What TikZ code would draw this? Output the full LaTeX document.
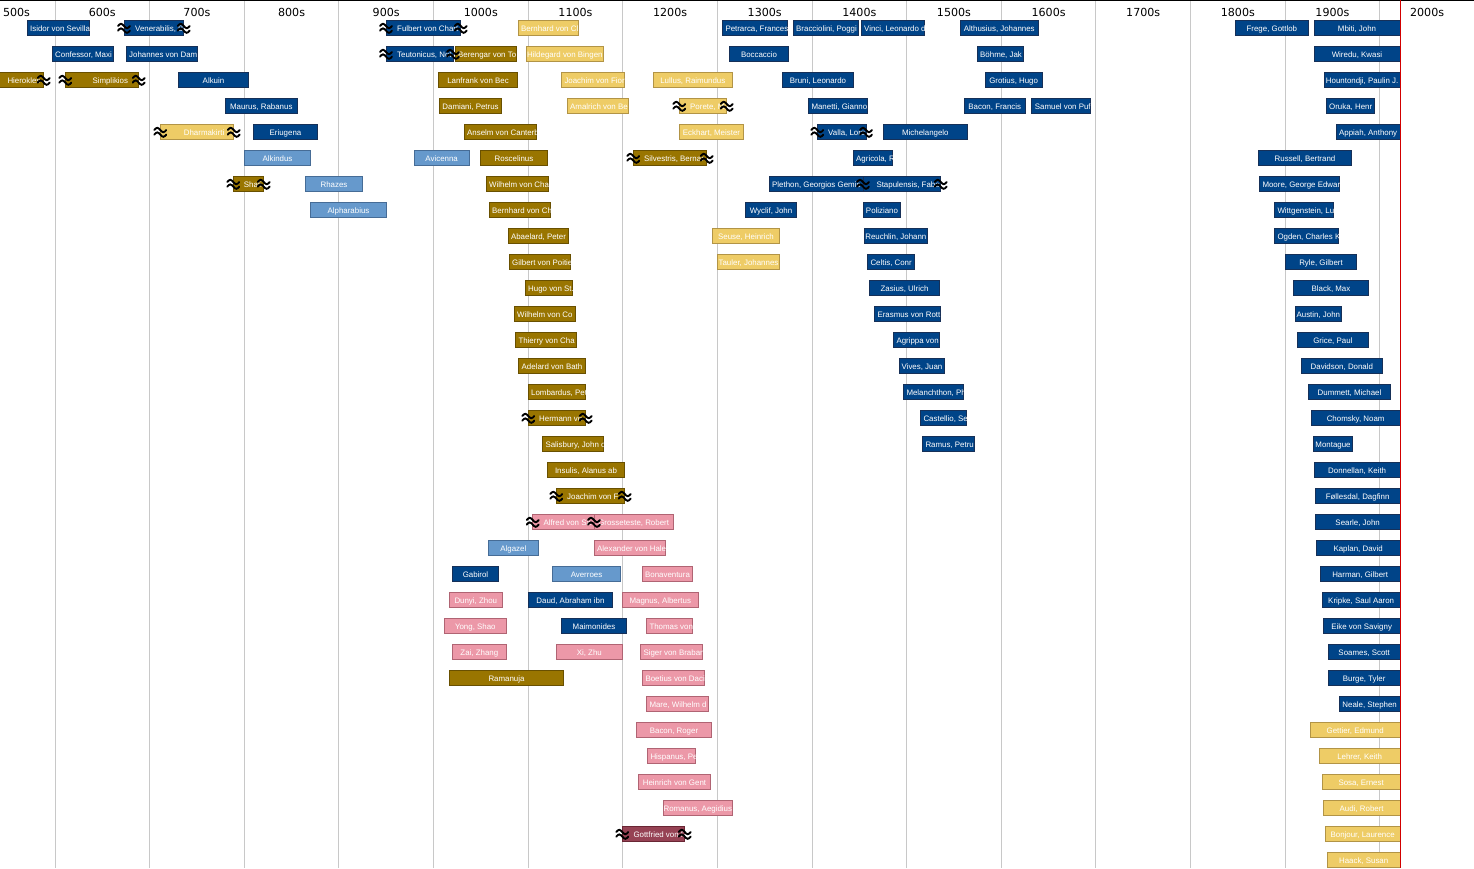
\documentclass[tikz,border=0pt]{standalone}
\usepackage{fontspec}
\setmainfont{Liberation Sans}
\newfontfamily\decfont{DejaVu Sans}
\definecolor{dbF}{RGB}{0,68,136}\definecolor{dbB}{RGB}{22,48,88}
\definecolor{lbF}{RGB}{102,153,204}\definecolor{lbB}{RGB}{70,108,150}
\definecolor{dgF}{RGB}{153,117,0}\definecolor{dgB}{RGB}{105,80,0}
\definecolor{lgF}{RGB}{238,204,102}\definecolor{lgB}{RGB}{178,148,70}
\definecolor{pkF}{RGB}{236,152,168}\definecolor{pkB}{RGB}{176,100,115}
\definecolor{drF}{RGB}{150,66,84}\definecolor{drB}{RGB}{105,38,52}
\definecolor{gridC}{RGB}{200,200,200}
\definecolor{nowC}{RGB}{210,0,0}
\tikzset{
  barbase/.style={line width=0.8pt, minimum height=15pt, inner sep=0pt, outer sep=0pt},
  barDB/.style={barbase, draw=dbB, fill=dbF},
  barLB/.style={barbase, draw=lbB, fill=lbF},
  barDG/.style={barbase, draw=dgB, fill=dgF},
  barLG/.style={barbase, draw=lgB, fill=lgF},
  barPK/.style={barbase, draw=pkB, fill=pkF},
  barDR/.style={barbase, draw=drB, fill=drF},
  btxt/.style={text=white, inner sep=0pt, font=\fontsize{7.9}{9}\selectfont},
  declbl/.style={anchor=base, inner sep=0pt, font=\decfont\fontsize{11.1}{13}\selectfont},
  gridline/.style={draw=gridC, line width=1pt},
  wv/.pic={
    \draw[line width=1.9pt, line cap=round] (-6,-2) sin (-3,-4.2) cos (0,-2) sin (3,0.2) cos (6,-2);
    \draw[line width=1.9pt, line cap=round] (-6,2.6) sin (-3,0.4) cos (0,2.6) sin (3,4.8) cos (6,2.6);
  }
}
\newcommand\barC[6]{%
  \node[#2, minimum width={(#4)*1pt-(#3)*1pt}] (#1) at ({(#3+#4)/2},{28+26*#5}) {};
  \begin{scope}\clip (#1.south west) rectangle (#1.north east);
  \node[btxt, anchor=base] (#1-t) at ([yshift=-3pt]#1.center) {#6};\end{scope}}
\newcommand\barL[7]{%
  \node[#2, minimum width={(#4)*1pt-(#3)*1pt}] (#1) at ({(#3+#4)/2},{28+26*#5}) {};
  \begin{scope}\clip (#1.south west) rectangle (#1.north east);
  \node[btxt, anchor=base west] (#1-t) at (#6,{31+26*#5}) {#7};\end{scope}}
\newcommand\mkLR[1]{\pic at (#1.west) {wv}; \pic at (#1.east) {wv};}
\newcommand\mkR[1]{\pic at (#1.east) {wv};}
\begin{document}
\begin{tikzpicture}[x=1pt,y=-1pt]
\useasboundingbox (0,0) rectangle (1474,868);
\clip (0,0) rectangle (1474,868);
% grid
\foreach \k in {0,...,14} \draw[gridline] ({55+94.63*\k},0) -- ({55+94.63*\k},868);
\draw[line width=1.4pt] (0,0.7) -- (1474,0.7);
% decade labels
\node[declbl] (dec5) at (16.5,16) {500s};
\foreach \k/\lab in {0/600s,1/700s,2/800s,3/900s,4/1000s,5/1100s,6/1200s,7/1300s,8/1400s,9/1500s,10/1600s,11/1700s,12/1800s,13/1900s,14/2000s}
  \node[declbl] (dec\k) at ({102.3+94.63*\k},16) {\lab};
% row 0
\barL{isidor}{barDB}{27.3}{89.7}{0}{30}{Isidor von Sevilla}
\barL{vener}{barDB}{124}{183.7}{0}{135}{Venerabilis, Be}
\barL{fulbert}{barDB}{386}{460.7}{0}{397}{Fulbert von Chart}
\barL{bernhcl}{barLG}{518.3}{578.7}{0}{521}{Bernhard von Cl}
\barL{petrarca}{barDB}{722.3}{787.3}{0}{725.3}{Petrarca, Frances}
\barL{bracc}{barDB}{793.3}{858}{0}{796}{Bracciolini, Poggi}
\barL{vinci}{barDB}{861}{924.7}{0}{864}{Vinci, Leonardo d}
\barC{althus}{barDB}{960.3}{1038.3}{0}{Althusius, Johannes}
\barC{frege}{barDB}{1235}{1308.7}{0}{Frege, Gottlob}
\barC{mbiti}{barDB}{1314}{1400}{0}{Mbiti, John}
% row 1
\barL{confessor}{barDB}{52}{113.7}{1}{55}{Confessor, Maxi}
\barL{damask}{barDB}{126}{197.7}{1}{129}{Johannes von Dam}
\barL{teuton}{barDB}{386}{453}{1}{397}{Teutonicus, Not}
\barL{bereng}{barDG}{455.3}{516.7}{1}{458}{Berengar von To}
\barC{hildeg}{barLG}{526.3}{603.3}{1}{Hildegard von Bingen}
\barC{bocc}{barDB}{729.3}{788.7}{1}{Boccaccio}
\barL{boehme}{barDB}{977}{1023.7}{1}{980}{Böhme, Jak}
\barC{wiredu}{barDB}{1314}{1400}{1}{Wiredu, Kwasi}
% row 2
\barL{hierokl}{barDG}{-20}{43.7}{2}{7.3}{Hierokles}
\barL{simpl}{barDG}{65.3}{138.7}{2}{92.3}{Simplikios}
\barC{alkuin}{barDB}{178.3}{248.7}{2}{Alkuin}
\barC{lanfr}{barDG}{438.3}{517.7}{2}{Lanfrank von Bec}
\barL{joachlg}{barLG}{561.3}{624.7}{2}{564.3}{Joachim von Fior}
\barC{lullus}{barLG}{653.3}{732.3}{2}{Lullus, Raimundus}
\barC{bruni}{barDB}{782.3}{853.7}{2}{Bruni, Leonardo}
\barC{grotius}{barDB}{985.3}{1042}{2}{Grotius, Hugo}
\barC{hount}{barDB}{1324.3}{1400}{2}{Hountondji, Paulin J.}
% row 3
\barC{maurus}{barDB}{225.3}{297.3}{3}{Maurus, Rabanus}
\barC{damiani}{barDG}{439.3}{501.7}{3}{Damiani, Petrus}
\barL{amalr}{barLG}{567.3}{628.7}{3}{570}{Amalrich von Be}
\barL{porete}{barLG}{679.3}{726.7}{3}{690}{Porete, M}
\barL{manetti}{barDB}{808.3}{867.7}{3}{811.3}{Manetti, Gianno}
\barC{baconf}{barDB}{964.3}{1025.3}{3}{Bacon, Francis}
\barL{pufend}{barDB}{1031.3}{1090.7}{3}{1034.7}{Samuel von Puf}
\barL{oruka}{barDB}{1326.3}{1374.7}{3}{1329}{Oruka, Henr}
% row 4
\barL{dharma}{barLG}{160.3}{233.7}{4}{183.7}{Dharmakirti}
\barC{eriug}{barDB}{253.3}{317.7}{4}{Eriugena}
\barL{anselm}{barDG}{464.3}{536.7}{4}{467}{Anselm von Canterb}
\barC{eckhart}{barLG}{679.3}{743.7}{4}{Eckhart, Meister}
\barL{valla}{barDB}{817.3}{866}{4}{828}{Valla, Lore}
\barC{michel}{barDB}{883}{967.7}{4}{Michelangelo}
\barC{appiah}{barDB}{1336.3}{1400}{4}{Appiah, Anthony}
% row 5
\barC{alkind}{barLB}{244.3}{310.7}{5}{Alkindus}
\barC{avic}{barLB}{414.3}{469}{5}{Avicenna}
\barC{rosc}{barDG}{480.3}{547.7}{5}{Roscelinus}
\barL{silv}{barDG}{633.3}{706.7}{5}{644}{Silvestris, Bernar}
\barL{agric}{barDB}{853.3}{892.7}{5}{856}{Agricola, R}
\barC{russell}{barDB}{1258.3}{1351.7}{5}{Russell, Bertrand}
% row 6
\barL{shafi}{barDG}{233.3}{263.7}{6}{243.7}{Shafi}
\barC{rhazes}{barLB}{305.3}{362.7}{6}{Rhazes}
\barL{wilhch}{barDG}{486.3}{548.7}{6}{489}{Wilhelm von Cha}
\barL{plethon}{barDB}{769.3}{863}{6}{772}{Plethon, Georgios Gemis}
\barL{stapul}{barDB}{863}{940.7}{6}{876.3}{Stapulensis, Fabe}
\barL{moore}{barDB}{1259.3}{1339.7}{6}{1262.3}{Moore, George Edwar}
% row 7
\barC{alphar}{barLB}{310.3}{386.7}{7}{Alpharabius}
\barL{bernch}{barDG}{489.3}{550.7}{7}{492}{Bernhard von Ch}
\barC{wyclif}{barDB}{745.3}{796.7}{7}{Wyclif, John}
\barC{polizi}{barDB}{863.3}{900.7}{7}{Poliziano}
\barL{wittg}{barDB}{1274.3}{1333.7}{7}{1277.3}{Wittgenstein, Lu}
% row 8
\barC{abael}{barDG}{508.3}{568.7}{8}{Abaelard, Peter}
\barC{seuse}{barLG}{712.3}{779.7}{8}{Seuse, Heinrich}
\barC{reuchl}{barDB}{864}{927.7}{8}{Reuchlin, Johann}
\barL{ogden}{barDB}{1274.3}{1338.7}{8}{1277.3}{Ogden, Charles K}
% row 9
\barL{gilbert}{barDG}{509.3}{570.7}{9}{512}{Gilbert von Poitie}
\barC{tauler}{barLG}{717.3}{779.7}{9}{Tauler, Johannes}
\barL{celtis}{barDB}{867.3}{914.7}{9}{870.3}{Celtis, Conr}
\barC{ryle}{barDB}{1285.3}{1356.7}{9}{Ryle, Gilbert}
% row 10
\barL{hugo}{barDG}{525.3}{572.7}{10}{528}{Hugo von St.}
\barC{zasius}{barDB}{869.3}{939.7}{10}{Zasius, Ulrich}
\barC{black}{barDB}{1293.3}{1368.7}{10}{Black, Max}
% row 11
\barL{wilhco}{barDG}{514.3}{575.7}{11}{517}{Wilhelm von Co}
\barL{erasm}{barDB}{874.3}{940.7}{11}{877.3}{Erasmus von Rott}
\barC{austin}{barDB}{1295}{1341.7}{11}{Austin, John}
% row 12
\barL{thierry}{barDG}{515.3}{576.7}{12}{518.3}{Thierry von Cha}
\barL{agrippa}{barDB}{893.3}{939.7}{12}{896.3}{Agrippa von}
\barC{grice}{barDB}{1297}{1368.7}{12}{Grice, Paul}
% row 13
\barC{adelard}{barDG}{518.3}{585.7}{13}{Adelard von Bath}
\barC{vives}{barDB}{899.3}{944.7}{13}{Vives, Juan}
\barC{davids}{barDB}{1301}{1382.7}{13}{Davidson, Donald}
% row 14
\barL{lomb}{barDG}{528.3}{585.7}{14}{531}{Lombardus, Pet}
\barL{melan}{barDB}{903.3}{963.7}{14}{906.3}{Melanchthon, Ph}
\barC{dummett}{barDB}{1308.3}{1390.7}{14}{Dummett, Michael}
% row 15
\barL{hermann}{barDG}{528.3}{585.7}{15}{539}{Hermann vo}
\barL{castell}{barDB}{920.3}{966.7}{15}{923.3}{Castellio, Se}
\barC{chomsky}{barDB}{1311.3}{1400}{15}{Chomsky, Noam}
% row 16
\barL{salisb}{barDG}{542.3}{603.7}{16}{545.3}{Salisbury, John o}
\barL{ramus}{barDB}{922.3}{974.7}{16}{925.3}{Ramus, Petru}
\barC{montag}{barDB}{1313.3}{1352.7}{16}{Montague}
% row 17
\barC{insulis}{barDG}{547.3}{624.7}{17}{Insulis, Alanus ab}
\barC{donnell}{barDB}{1314.3}{1400}{17}{Donnellan, Keith}
% row 18
\barL{joachdg}{barDG}{556.3}{624.7}{18}{567}{Joachim von F}
\barC{folles}{barDB}{1315.3}{1400}{18}{Føllesdal, Dagfinn}
% row 19
\barL{alfred}{barPK}{532.7}{594}{19}{543.3}{Alfred von Sa}
\barC{grosset}{barPK}{594}{673.3}{19}{Grosseteste, Robert}
\barC{searle}{barDB}{1315.3}{1400}{19}{Searle, John}
% row 20
\barC{algazel}{barLB}{488.3}{538.3}{20}{Algazel}
\barL{alexhal}{barPK}{594.3}{665.3}{20}{597}{Alexander von Hale}
\barC{kaplan}{barDB}{1316.3}{1400}{20}{Kaplan, David}
% row 21
\barC{gabirol}{barDB}{452.3}{498.7}{21}{Gabirol}
\barC{averr}{barLB}{552.3}{620.7}{21}{Averroes}
\barC{bonav}{barPK}{642.7}{692.3}{21}{Bonaventura}
\barC{harman}{barDB}{1320.3}{1400}{21}{Harman, Gilbert}
% row 22
\barC{dunyi}{barPK}{449.3}{502.3}{22}{Dunyi, Zhou}
\barC{daud}{barDB}{528.3}{612.7}{22}{Daud, Abraham ibn}
\barC{magnus}{barPK}{622.3}{698.3}{22}{Magnus, Albertus}
\barC{kripke}{barDB}{1322.3}{1400}{22}{Kripke, Saul Aaron}
% row 23
\barC{yong}{barPK}{444.3}{506.3}{23}{Yong, Shao}
\barC{maimon}{barDB}{561.3}{626.7}{23}{Maimonides}
\barL{thomas}{barPK}{646.3}{692.3}{23}{649.3}{Thomas von}
\barC{eike}{barDB}{1323.3}{1400}{23}{Eike von Savigny}
% row 24
\barC{zai}{barPK}{452.3}{506.3}{24}{Zai, Zhang}
\barC{zhu}{barPK}{556.3}{622.3}{24}{Xi, Zhu}
\barL{siger}{barPK}{640.3}{702.3}{24}{643.3}{Siger von Braban}
\barC{soames}{barDB}{1328.3}{1400}{24}{Soames, Scott}
% row 25
\barC{ramanuja}{barDG}{449.3}{563.7}{25}{Ramanuja}
\barL{boetius}{barPK}{642.3}{704.3}{25}{645.3}{Boetius von Daci}
\barC{burge}{barDB}{1328.3}{1400}{25}{Burge, Tyler}
% row 26
\barL{mare}{barPK}{646.3}{708.3}{26}{649.3}{Mare, Wilhelm d}
\barC{neale}{barDB}{1339.3}{1400}{26}{Neale, Stephen}
% row 27
\barC{baconr}{barPK}{636.3}{711.7}{27}{Bacon, Roger}
\barC{gettier}{barLG}{1310.3}{1400}{27}{Gettier, Edmund}
% row 28
\barL{hispan}{barPK}{647.3}{695.7}{28}{650.3}{Hispanus, Pe}
\barC{lehrer}{barLG}{1319.3}{1400}{28}{Lehrer, Keith}
% row 29
\barC{heinr}{barPK}{638.3}{710.7}{29}{Heinrich von Gent}
\barC{sosa}{barLG}{1322.3}{1400}{29}{Sosa, Ernest}
% row 30
\barC{romanus}{barPK}{663.3}{732.3}{30}{Romanus, Aegidius}
\barC{audi}{barLG}{1323.3}{1400}{30}{Audi, Robert}
% row 31
\barL{gottfr}{barDR}{622.3}{684.7}{31}{633.3}{Gottfried von F}
\barC{bonjour}{barLG}{1325.3}{1400}{31}{Bonjour, Laurence}
% row 32
\barC{haack}{barLG}{1327.3}{1400}{32}{Haack, Susan}
% uncertainty markers
\mkLR{vener}\mkLR{fulbert}\mkLR{teuton}\mkR{hierokl}\mkLR{simpl}
\mkLR{dharma}\mkLR{shafi}\mkLR{porete}\mkLR{silv}\mkLR{valla}\mkLR{stapul}
\mkLR{hermann}\mkLR{joachdg}\mkLR{alfred}\mkLR{gottfr}
% present line
\draw[draw=nowC, line width=1.3pt] (1400.5,0) -- (1400.5,868);
\end{tikzpicture}
\end{document}
